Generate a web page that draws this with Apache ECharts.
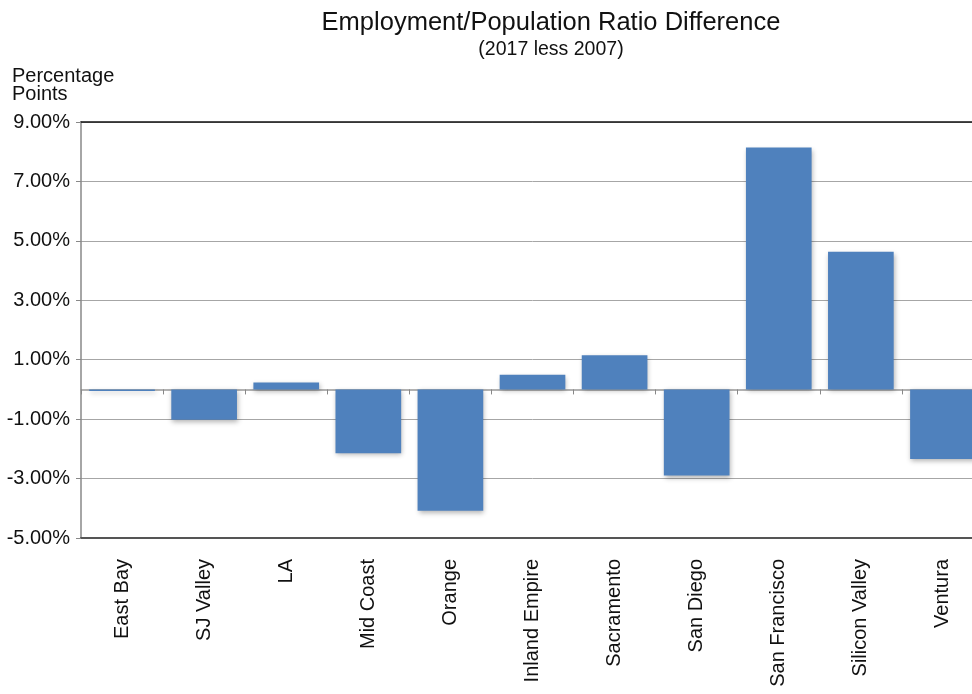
<!DOCTYPE html>
<html>
<head>
<meta charset="utf-8">
<script src="https://cdn.jsdelivr.net/npm/echarts@6/dist/echarts.min.js"></script>
<style>
  html, body { margin: 0; padding: 0; background: #fff; overflow: hidden; }
  /* the plot area continues a little past the right edge of the window */
  #chart { width: 984px; height: 694px; }
</style>
</head>
<body>
<div id="chart"></div>
<script>
// Regions and change in employment/population ratio (percentage points)
var regions = ['East Bay', 'SJ Valley', 'LA', 'Mid Coast', 'Orange', 'Inland Empire',
  'Sacramento', 'San Diego', 'San Francisco', 'Silicon Valley', 'Ventura'];
var ratioDiff = [-0.05, -1.02, 0.23, -2.15, -4.08, 0.49, 1.15, -2.90, 8.14, 4.63, -2.34];

// Value axis range
var yMin = -5;
var yMax = 9;
var yStep = 2;

var FONT = '"Liberation Sans", Helvetica, Arial, sans-serif';

var chart = echarts.init(document.getElementById('chart'), null, { renderer: 'canvas' });

chart.setOption({
  backgroundColor: '#ffffff',
  animation: false,
  title: [
    {
      text: 'Employment/Population Ratio Difference',
      left: 546, top: 5, textAlign: 'center',
      textStyle: { fontFamily: FONT, fontSize: 25.5, fontWeight: 'normal', color: '#111' }
    },
    {
      text: '(2017 less 2007)',
      left: 546, top: 35, textAlign: 'center',
      textStyle: { fontFamily: FONT, fontSize: 19.5, fontWeight: 'normal', color: '#111' }
    },
    {
      text: 'Percentage\nPoints',
      left: 7, top: 62,
      textStyle: { fontFamily: FONT, fontSize: 20, fontWeight: 'normal', color: '#111', lineHeight: 18.5 }
    }
  ],
  grid: { left: 81, top: 122, right: 0, bottom: 156, containLabel: false },
  xAxis: [
    {
      // labelled axis along the bottom edge of the plot
      type: 'category',
      data: regions,
      position: 'bottom',
      axisLine: { onZero: false, lineStyle: { color: '#555', width: 2 } },
      axisTick: { show: false },
      axisLabel: {
        rotate: 90, margin: 21, interval: 0,
        fontFamily: FONT, fontSize: 20, color: '#111'
      },
      splitLine: { show: false }
    },
    {
      // baseline through zero with category separators
      type: 'category',
      data: regions,
      position: 'bottom',
      axisLine: { onZero: true, lineStyle: { color: '#999', width: 1.5 } },
      axisTick: { show: true, alignWithLabel: false, interval: 0, length: 5, lineStyle: { color: '#888', width: 1 } },
      axisLabel: { show: false },
      splitLine: { show: false }
    },
    {
      // top border of the plot
      type: 'category',
      data: regions,
      position: 'top',
      axisLine: { lineStyle: { color: '#111', width: 1.5 } },
      axisTick: { show: false },
      axisLabel: { show: false }
    }
  ],
  yAxis: {
    type: 'value',
    min: yMin, max: yMax, interval: yStep,
    axisLine: { show: true, lineStyle: { color: '#888', width: 1.5 } },
    axisTick: { show: true, length: 5, lineStyle: { color: '#888' } },
    axisLabel: {
      margin: 11,
      fontFamily: FONT, fontSize: 20, color: '#111',
      formatter: function (v) { return v.toFixed(2) + '%'; }
    },
    splitLine: { show: true, lineStyle: { color: '#a6a6a6', width: 1 } }
  },
  series: [
    {
      type: 'bar',
      xAxisIndex: 0,
      data: ratioDiff,
      barCategoryGap: '20%',
      itemStyle: {
        color: '#4F81BD',
        shadowColor: 'rgba(0,0,0,0.3)',
        shadowBlur: 5,
        shadowOffsetX: 1,
        shadowOffsetY: 2
      }
    }
  ]
});
</script>
</body>
</html>
